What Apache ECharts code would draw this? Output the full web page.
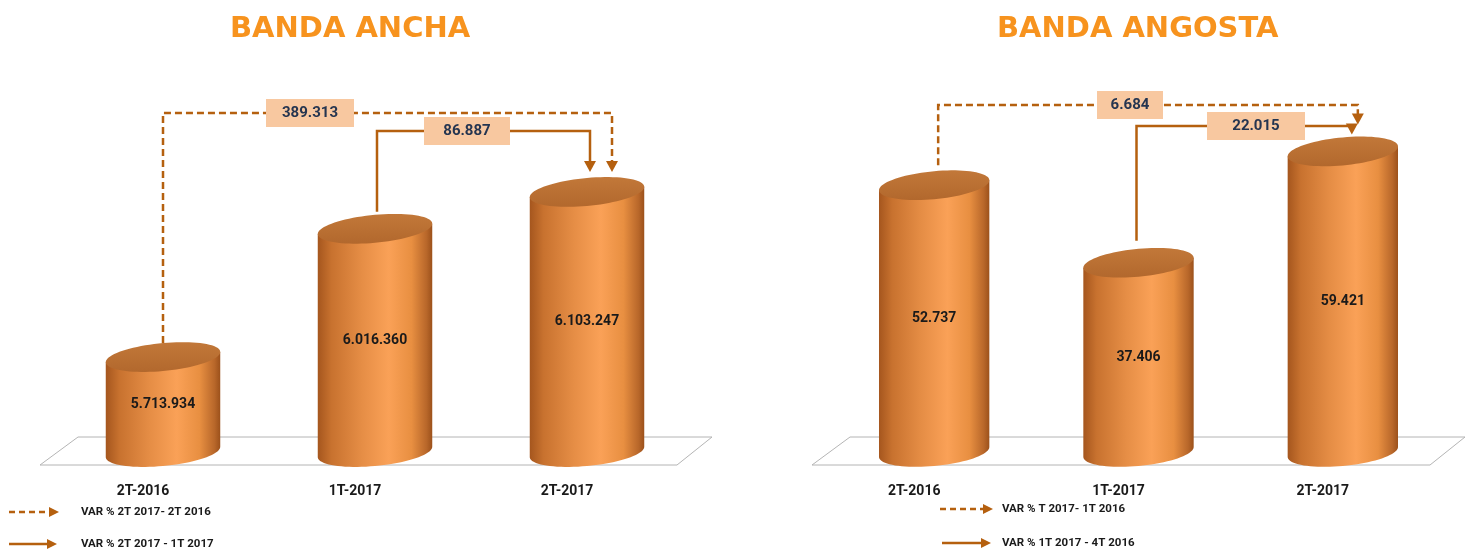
<!DOCTYPE html>
<html>
<head>
<meta charset="utf-8">
<script src="https://cdn.jsdelivr.net/npm/echarts@6/dist/echarts.min.js"></script>
<style>
    html, body { margin: 0; padding: 0; background: #fff; }
    #main { width: 1468px; height: 552px; }
</style>
</head>
<body>
<div id="main"></div>
<script>
// datos de los dos gráficos
var periods = ['2T-2016', '1T-2017', '2T-2017'];
var anchaValues = [5713934, 6016360, 6103247];
var angostaValues = [52737, 37406, 59421];
var anchaVar = ['389.313', '86.887'];
var angostaVar = ['6.684', '22.015'];
var anchaLegend = ['VAR % 2T 2017- 2T 2016', 'VAR % 2T 2017 - 1T 2017'];
var angostaLegend = ['VAR % T 2017- 1T 2016', 'VAR % 1T 2017 - 4T 2016'];

var BROWN = '#B5600F';
var RY = 14;          // radio vertical de la elipse del cilindro
var SLOPE = 0.09;     // inclinación de la elipse (sube hacia la derecha)
var FONT = 'Roboto, "Liberation Sans", sans-serif';
var anchaMin = 5490000, anchaMax = 6197500;
var angostaMin = 0, angostaMax = 59300;

function fmt(v) {
    return String(v).replace(/\B(?=(\d{3})+(?!\d))/g, '.');
}

var bodyFill = {
    type: 'linear', x: 0, y: 0, x2: 1, y2: 0,
    colorStops: [
        {offset: 0, color: '#A5561E'},
        {offset: 0.12, color: '#C8722F'},
        {offset: 0.38, color: '#E58D45'},
        {offset: 0.62, color: '#FAA157'},
        {offset: 0.82, color: '#E88F41'},
        {offset: 0.95, color: '#B8672A'},
        {offset: 1, color: '#9C511B'}
    ]
};

// punto de la elipse inclinada (cizalla vertical)
function ell(cx, cy, rx, t) {
    var c = Math.cos(t);
    return [cx + rx * c, cy + RY * Math.sin(t) - SLOPE * rx * c];
}

// dibuja un cilindro por cada barra
function cylinder(yMin) {
    return function (params, api) {
        var top = api.coord([api.value(0), api.value(1)]);
        var base = api.coord([api.value(0), yMin]);
        var rx = api.size([1, 0])[0] * 0.27;
        var cx = top[0];
        var body = [[cx - rx, top[1] + SLOPE * rx]];
        for (var i = 0; i <= 40; i++) {
            body.push(ell(cx, base[1], rx, Math.PI - Math.PI * i / 40));
        }
        body.push([cx + rx, top[1] - SLOPE * rx]);
        var cap = [];
        for (var j = 0; j < 80; j++) {
            cap.push(ell(cx, top[1], rx, Math.PI * 2 * j / 80));
        }
        return {
            type: 'group',
            children: [
                {type: 'polygon', shape: {points: body}, style: {fill: bodyFill}},
                {type: 'polygon', shape: {points: cap},
                    style: {fill: {type: 'linear', x: 0, y: 0, x2: 0, y2: 1,
                        colorStops: [{offset: 0, color: '#C27839'}, {offset: 1, color: '#B2682D'}]}}},
                {type: 'text', x: cx, y: (top[1] + base[1]) / 2,
                    style: {text: fmt(api.value(1)), fill: '#1a1a1a', font: 'bold 14px ' + FONT,
                        align: 'center', verticalAlign: 'middle', textAlign: 'center', textVerticalAlign: 'middle'}}
            ]
        };
    };
}

function xAxisOf(grid) {
    return {
        type: 'category', gridIndex: grid, data: periods,
        axisLine: {show: false}, axisTick: {show: false},
        axisLabel: {margin: 32, padding: [0, 40, 0, 0], color: '#1a1a1a', fontWeight: 'bold', fontSize: 14, fontFamily: FONT}
    };
}

var chart = echarts.init(document.getElementById('main'));

var option = {
    animation: false,
    title: [
        {text: 'BANDA ANCHA', left: 225, top: 10,
            textStyle: {color: '#F7931E', fontSize: 29, fontWeight: 'bold', fontFamily: '"DejaVu Sans", sans-serif'}},
        {text: 'BANDA ANGOSTA', left: 992, top: 10,
            textStyle: {color: '#F7931E', fontSize: 29, fontWeight: 'bold', fontFamily: '"DejaVu Sans", sans-serif'}}
    ],
    grid: [
        {left: 57, width: 636, top: 152, bottom: 100},
        {left: 832, width: 613, top: 152, bottom: 100}
    ],
    xAxis: [xAxisOf(0), xAxisOf(1)],
    yAxis: [
        {type: 'value', gridIndex: 0, min: anchaMin, max: anchaMax, show: false},
        {type: 'value', gridIndex: 1, min: angostaMin, max: angostaMax, show: false}
    ],
    series: [
        {type: 'custom', name: 'Banda ancha', xAxisIndex: 0, yAxisIndex: 0,
            renderItem: cylinder(anchaMin), encode: {x: 0, y: 1},
            data: anchaValues.map(function (v, i) { return [i, v]; })},
        {type: 'custom', name: 'Banda angosta', xAxisIndex: 1, yAxisIndex: 1,
            renderItem: cylinder(angostaMin), encode: {x: 0, y: 1},
            data: angostaValues.map(function (v, i) { return [i, v]; })}
    ]
};
chart.setOption(option);

// plataformas, flechas de variación y leyendas
var els = [];
function floor(pts) {
    els.push({type: 'polygon', z: 0, shape: {points: pts}, style: {fill: '#fff', stroke: '#b4b4b4', lineWidth: 1}});
}
floor([[78, 437], [712, 437], [677, 465], [40, 465]]);
floor([[850, 437], [1465, 437], [1430, 465], [812, 465]]);

function bracket(g, values, n) {
    var a = chart.convertToPixel({gridIndex: g}, [n.from, values[n.from]]);
    var b = chart.convertToPixel({gridIndex: g}, [n.to, values[n.to]]);
    var sx = a[0] + n.fromDx, sy = a[1] - RY - n.fromGap;
    var tx = b[0] + n.toDx, ty = b[1] - RY - n.toGap;
    els.push({type: 'polyline', z: 10,
        shape: {points: [[sx, sy], [sx, n.level], [tx, n.level], [tx, ty - 9]]},
        style: {stroke: BROWN, lineWidth: 2.5, fill: null, lineDash: n.dashed ? [7, 4] : null}});
    els.push({type: 'polygon', z: 10, shape: {points: [[tx - 6, ty - 11], [tx + 6, ty - 11], [tx, ty]]},
        style: {fill: BROWN}});
    els.push({type: 'rect', z: 11, shape: {x: n.labelX - n.boxW / 2, y: n.level - 14, width: n.boxW, height: 28},
        style: {fill: '#F8C8A0'}});
    els.push({type: 'text', z: 12, x: n.labelX, y: n.level,
        style: {text: n.label, fill: '#253550', font: 'bold 15px ' + FONT,
            align: 'center', verticalAlign: 'middle', textAlign: 'center', textVerticalAlign: 'middle'}});
}

bracket(0, anchaValues, {from: 0, to: 2, dashed: true, level: 113, fromDx: 0, toDx: 25, fromGap: 0, toGap: 6, labelX: 310, boxW: 88, label: anchaVar[0]});
bracket(0, anchaValues, {from: 1, to: 2, dashed: false, level: 131, fromDx: 2, toDx: 3, fromGap: 3, toGap: 6, labelX: 467, boxW: 86, label: anchaVar[1]});
bracket(1, angostaValues, {from: 0, to: 2, dashed: true, level: 105, fromDx: 4, toDx: 15, fromGap: 6, toGap: 13, labelX: 1130, boxW: 66, label: angostaVar[0]});
bracket(1, angostaValues, {from: 1, to: 2, dashed: false, level: 126, fromDx: -2, toDx: 9, fromGap: 8, toGap: 3, labelX: 1256, boxW: 98, label: angostaVar[1]});

function legendItem(x0, x1, y, dashed, text, tx) {
    els.push({type: 'line', z: 10, shape: {x1: x0, y1: y, x2: x1 - 8, y2: y},
        style: {stroke: BROWN, lineWidth: 2.5, lineDash: dashed ? [6, 4] : null}});
    els.push({type: 'polygon', z: 10, shape: {points: [[x1 - 10, y - 5], [x1, y], [x1 - 10, y + 5]]}, style: {fill: BROWN}});
    els.push({type: 'text', z: 10, x: tx, y: y,
        style: {text: text, fill: '#1a1a1a', font: 'bold 11.5px ' + FONT,
            align: 'left', verticalAlign: 'middle', textAlign: 'left', textVerticalAlign: 'middle'}});
}
legendItem(9, 59, 512, true, anchaLegend[0], 81);
legendItem(9, 57, 544, false, anchaLegend[1], 81);
legendItem(940, 993, 509, true, angostaLegend[0], 1002);
legendItem(942, 991, 543, false, angostaLegend[1], 1002);

chart.setOption({graphic: {elements: els}});
</script>
</body>
</html>
